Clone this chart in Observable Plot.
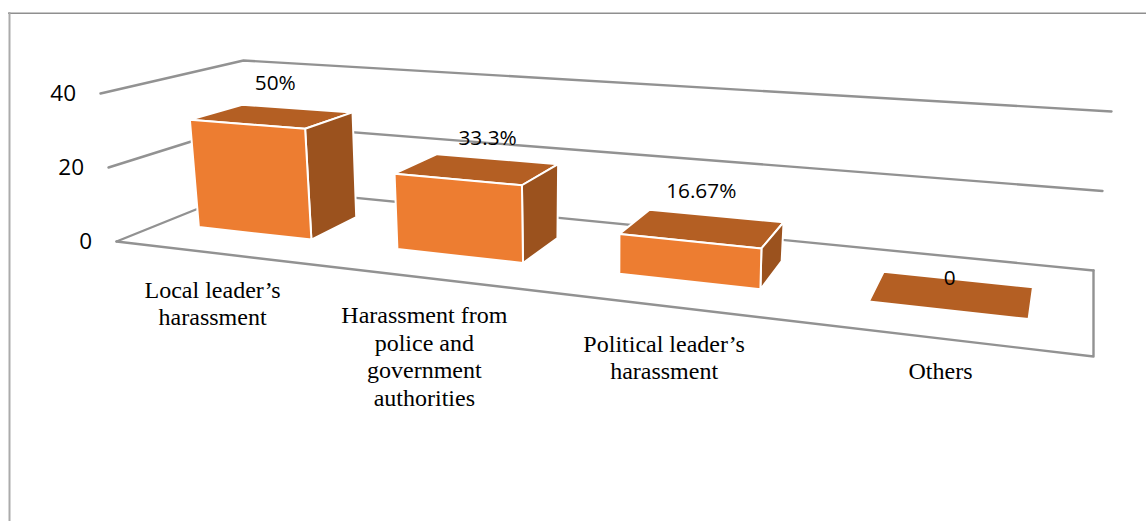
<!DOCTYPE html>
<html>
<head>
<meta charset="utf-8">
<script src="https://cdn.jsdelivr.net/npm/d3@7"></script>
<script src="https://cdn.jsdelivr.net/npm/@observablehq/plot@0.6"></script>
<style>
  html, body { margin: 0; padding: 0; background: #fff; }
  svg { display: block; }
</style>
</head>
<body>
<div id="chart"></div>
<script>
// Chart data: harassment types, their shares and the value axis.
const categories = [
  "Local leader’s\nharassment",
  "Harassment from\npolice and\ngovernment\nauthorities",
  "Political leader’s\nharassment",
  "Others"
];
const shares = [50, 33.3, 16.67, 0];
const shareLabels = ["50%", "33.3%", "16.67%", "0"];
const axisTicks = [0, 20, 40];
const respondents = 60; // bar heights are counts: share of all respondents

// Perspective of the box: floor corners and the lift of level 40 above each.
const W = 1146, H = 521;
const floorFL = [116, 241], floorFR = [1093, 356], floorBR = [1093, 270], floorBL = [250, 187];
const liftFL = [-16, -148], liftFR = [9, -180], liftBR = [18, -159], liftBL = [-7, -127];
const axisMax = 40;
const barPadLeft = 0.049, barPadRight = 0.056, barFront = 0.31, barBack = 0.695;

// Unit square to floor quadrilateral homography.
const [hg, hh, ha, hb, hd, he] = (() => {
  const [x0, y0] = floorFL, [x1, y1] = floorFR, [x2, y2] = floorBR, [x3, y3] = floorBL;
  const dx1 = x1 - x2, dx2 = x3 - x2, sx = x0 - x1 + x2 - x3;
  const dy1 = y1 - y2, dy2 = y3 - y2, sy = y0 - y1 + y2 - y3;
  const den = dx1 * dy2 - dx2 * dy1;
  const g = (sx * dy2 - dx2 * sy) / den;
  const h = (dx1 * sy - sx * dy1) / den;
  return [g, h, x1 - x0 + g * x1, x3 - x0 + h * x3, y1 - y0 + g * y1, y3 - y0 + h * y3];
})();

// u runs along the categories, d from front to back, level is the axis value.
function project(u, d, level) {
  const w = 1 + hg * u + hh * d;
  const fx = (ha * u + hb * d + floorFL[0]) / w;
  const fy = (hd * u + he * d + floorFL[1]) / w;
  const mix = (i) =>
    (1 - d) * ((1 - u) * liftFL[i] + u * liftFR[i]) + d * ((1 - u) * liftBL[i] + u * liftBR[i]);
  const t = level / axisMax;
  return [fx + t * mix(0), fy + t * mix(1)];
}

const band = 1 / categories.length;
const heightOf = (share) => (share / 100) * respondents;
const point = (id, u, d, level) => {
  const [x, y] = project(u, d, level);
  return { id, x, y };
};

// One closed outline per face of a bar.
function face(i, corners) {
  const level = heightOf(shares[i]);
  const u0 = i * band + barPadLeft, u1 = (i + 1) * band - barPadRight;
  const u = { l: u0, r: u1 }, d = { f: barFront, b: barBack };
  const ring = corners.concat([corners[0]]);
  return ring.map(([a, b, top]) => point(i, u[a], d[b], top ? level : 0));
}
const bars = shares.map((_, i) => i);
const standing = bars.filter((i) => shares[i] > 0);
const frontFaces = standing.flatMap((i) =>
  face(i, [["l", "f", 0], ["r", "f", 0], ["r", "f", 1], ["l", "f", 1]]));
const sideFaces = standing.flatMap((i) =>
  face(i, [["r", "f", 0], ["r", "b", 0], ["r", "b", 1], ["r", "f", 1]]));
const topFaces = bars.flatMap((i) =>
  face(i, [["l", "f", 1], ["r", "f", 1], ["r", "b", 1], ["l", "b", 1]]));

// Back walls and floor outline of the box.
const walls = axisTicks.flatMap((t) => [
  point(t, 0, 0, t), point(t, 0, 1, t), point(t, 1, 1, t)
]);
const floorEdge = [point("f", 0, 0, 0), point("f", 1, 0, 0), point("f", 1, 1, 0)];

const tickRows = axisTicks.map((t) => {
  const [x, y] = project(0, 0, t);
  return { text: String(t), x: x - 24.5, y };
});

// Value labels sit above the back edge of each bar top.
const labelNudge = [[-24, -25], [-12, -21], [-17.5, -25], [-11, -1.5]];
const shareRows = bars.map((i) => {
  const [x, y] = project((i + 0.5) * band, barBack, heightOf(shares[i]));
  return { text: shareLabels[i], x: x + labelNudge[i][0], y: y + labelNudge[i][1] };
});

// Category names hang below the front edge of the floor.
const categoryDrop = [[-2, 25], [-4, 25.5], [-5, 25.5], [-2, 21]];
const categoryRows = bars.map((i) => {
  const [x, y] = project((i + 0.5) * band, 0, 0);
  return { text: categories[i], x: x + categoryDrop[i][0], y: y + categoryDrop[i][1] };
});

const gridColor = "#929292";
const sansFont = "'Open Sans', sans-serif";
const serifFont = "'Liberation Serif', serif";
const faceStyle = { x: "x", y: "y", z: "id", stroke: "white", strokeWidth: 2, strokeLinejoin: "miter" };

const chart = Plot.plot({
  width: W,
  height: H,
  margin: 0,
  style: { background: "white" },
  x: { domain: [0, W], range: [0, W], axis: null },
  y: { domain: [0, H], range: [0, H], axis: null },
  marks: [
    Plot.ruleY([12.7], { x1: 8, x2: W, stroke: "#8f8f8f", strokeWidth: 1.5 }),
    Plot.ruleX([9], { y1: 12, y2: H, stroke: "#ababab", strokeWidth: 2 }),
    Plot.line(walls, { x: "x", y: "y", z: "id", stroke: gridColor, strokeWidth: 2.4 }),
    Plot.line(floorEdge, { x: "x", y: "y", z: "id", stroke: gridColor, strokeWidth: 2.4 }),
    Plot.line(topFaces, { ...faceStyle, fill: "#b45f23" }),
    Plot.line(sideFaces, { ...faceStyle, fill: "#9b521e" }),
    Plot.line(frontFaces, { ...faceStyle, fill: "#ed7d31" }),
    Plot.text(tickRows, { x: "x", y: "y", text: "text", textAnchor: "end", fontFamily: sansFont, fontSize: 22.5, fill: "black" }),
    Plot.text(shareRows, { x: "x", y: "y", text: "text", fontFamily: sansFont, fontSize: 20.8, fill: "black" }),
    Plot.text(categoryRows, { x: "x", y: "y", text: "text", lineAnchor: "top", lineHeight: 1.145, fontFamily: serifFont, fontSize: 24, fill: "black" })
  ]
});
document.getElementById("chart").append(chart);
</script>
</body>
</html>
